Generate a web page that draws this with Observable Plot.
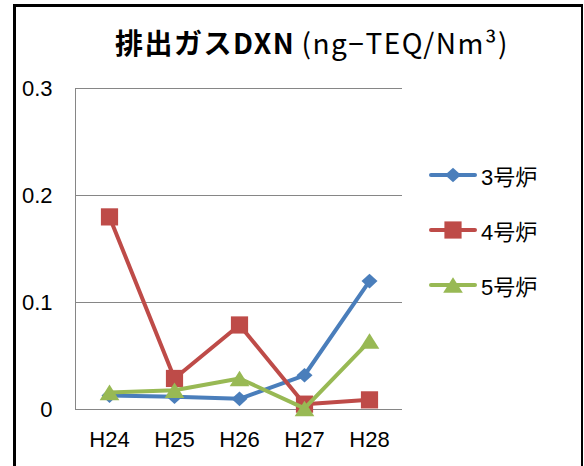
<!DOCTYPE html>
<html>
<head>
<meta charset="utf-8">
<script src="https://cdn.jsdelivr.net/npm/d3@7"></script>
<script src="https://cdn.jsdelivr.net/npm/@observablehq/plot@0.6"></script>
<style>
  body { margin: 0; background: #fff; }
  #wrap { position: relative; width: 584px; height: 466px; overflow: hidden; background: #fff; }
  #chart { position: absolute; left: 0; top: 0; }
  #border { position: absolute; left: 13px; top: 4px; width: 565px; height: 520px;
    border-left: 3px solid #000; border-top: 3px solid #000; border-right: 2px solid #000; }
  #title { position: absolute; left: 20px; top: 28px; width: 584px; text-align: center;
    font-family: "Noto Sans CJK JP", sans-serif; font-size: 28px; line-height: 28px; color: #000; white-space: nowrap; }
  #title .b { font-weight: bold; letter-spacing: 1.5px; }
  #title .r { letter-spacing: 1.5px; }
  #legend { position: absolute; left: 0; top: 0; }
  .item { position: absolute; left: 428px; height: 26px; display: flex; align-items: center; white-space: nowrap;
    font-family: "Liberation Sans", "Noto Sans CJK JP", sans-serif; font-size: 22px; color: #000; }
  .item svg { display: block; margin-right: 3px; flex: none; }
</style>
</head>
<body>
<div id="wrap">
  <div id="chart"></div>
  <div id="title"><span class="b">排出ガスDXN</span> <span class="r">(ng−TEQ/Nm³)</span></div>
  <div id="legend"></div>
  <div id="border"></div>
</div>
<script>
// ---- data ----
const years = ["H24", "H25", "H26", "H27", "H28"];
const seriesNames = ["3号炉", "4号炉", "5号炉"];
const unit3 = [0.013, 0.012, 0.010, 0.032, 0.120];
const unit4 = [0.180, 0.029, 0.079, 0.005, 0.009];
const unit5 = [0.016, 0.018, 0.029, 0.001, 0.064];
const yTicks = [0, 0.1, 0.2, 0.3];
const colors = ["#4A7EBB", "#BE4B48", "#98B954"];

// ---- custom marker symbols (Excel-like) ----
const diamondSym = { draw(ctx, size) { const h = Math.sqrt(size / Math.PI);
  ctx.moveTo(0, -h * 0.92); ctx.lineTo(h, 0); ctx.lineTo(0, h * 0.92); ctx.lineTo(-h, 0); ctx.closePath(); } };
const squareSym = { draw(ctx, size) { const h = Math.sqrt(size / Math.PI); ctx.rect(-h, -h, 2 * h, 2 * h); } };
const triSym = { draw(ctx, size) { const h = Math.sqrt(size / Math.PI); const w = h * 1.2, v = h * 0.95;
  ctx.moveTo(0, -v); ctx.lineTo(w, v); ctx.lineTo(-w, v); ctx.closePath(); } };
const symbols = [diamondSym, squareSym, triSym];
const radii = [8, 8.6, 8.2];

const allValues = [unit3, unit4, unit5];
const rows = [];
seriesNames.forEach((s, i) => years.forEach((y, j) => rows.push({ series: s, year: y, value: allValues[i][j] })));

const marks = [
  Plot.ruleY(yTicks, { stroke: "#868686", strokeWidth: 1 }),
  Plot.frame({ anchor: "left", stroke: "#868686", strokeWidth: 1 }),
  Plot.axisY({ ticks: yTicks, tickSize: 0, tickPadding: 23, fontSize: 22, tickFormat: d => d === 0 ? "0" : d3.format(".1f")(d), label: null }),
  Plot.axisX({ tickSize: 0, tickPadding: 22, fontSize: 22, label: null })
];
seriesNames.forEach((s, i) => {
  const data = rows.filter(d => d.series === s);
  marks.push(Plot.line(data, { x: "year", y: "value", stroke: colors[i], strokeWidth: 4, strokeLinejoin: "round", strokeLinecap: "round" }));
  marks.push(Plot.dot(data, { x: "year", y: "value", symbol: symbols[i], r: radii[i], fill: colors[i], stroke: "none" }));
});

const chart = Plot.plot({
  width: 584, height: 466,
  marginLeft: 75, marginRight: 182, marginTop: 88, marginBottom: 57,
  x: { type: "point", domain: years, padding: 0.5 },
  y: { domain: [0, 0.3] },
  style: { background: "transparent", fontFamily: "'Liberation Sans', Arial, sans-serif", fontSize: "22px", color: "#000" },
  marks
});
document.getElementById("chart").appendChild(chart);

// ---- legend ----
const legendY = [175, 230, 285];
const legend = document.getElementById("legend");
seriesNames.forEach((s, i) => {
  const item = document.createElement("div");
  item.className = "item";
  item.style.top = (legendY[i] - 13) + "px";
  const svg = d3.create("svg").attr("width", 50).attr("height", 26);
  svg.append("line").attr("x1", 3).attr("x2", 47).attr("y1", 13).attr("y2", 13)
    .attr("stroke", colors[i]).attr("stroke-width", 4).attr("stroke-linecap", "round");
  svg.append("path").attr("transform", "translate(25,13)")
    .attr("d", d3.symbol(symbols[i], Math.PI * radii[i] * radii[i])()).attr("fill", colors[i]);
  item.appendChild(svg.node());
  const t = document.createElement("span");
  t.textContent = s;
  item.appendChild(t);
  legend.appendChild(item);
});
</script>
</body>
</html>
